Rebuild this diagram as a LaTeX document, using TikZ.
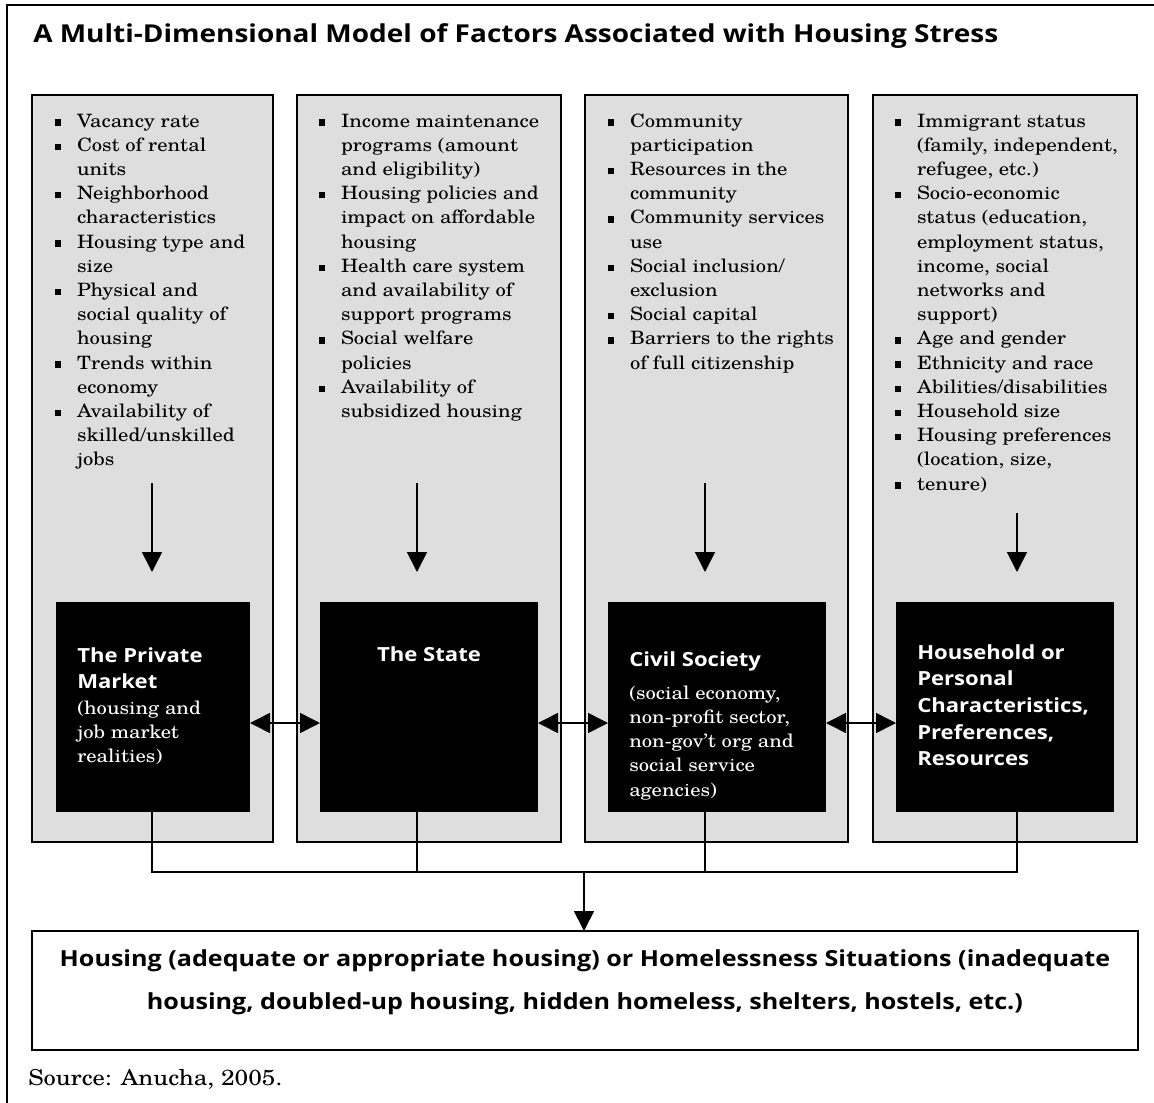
\documentclass[tikz,border=0pt]{standalone}
\usepackage{fontspec}
\setmainfont{texgyreschola}[Extension=.otf,UprightFont=*-regular,BoldFont=*-bold,ItalicFont=*-italic,BoldItalicFont=*-bolditalic,FakeStretch=1.12]
\newfontfamily\hsans{Open Sans}[FakeStretch=1.135]
\usetikzlibrary{arrows.meta}
\newdimen\pxu \pxu=0.75pt
\definecolor{colgray}{RGB}{222,222,222}
\newcommand{\bul}{\llap{\raisebox{0.9pt}{\rule{4.8pt}{4.8pt}}\hspace{11.9pt}}}
\newcommand{\st}{\rule{0pt}{12pt}}
\tikzset{
  colbox/.style={draw, line width=1.5pt, fill=colgray, inner sep=0pt, outer sep=0pt},
  blackbox/.style={fill=black, inner sep=0pt, outer sep=0pt},
  listtxt/.style={anchor=north west, inner sep=0pt, outer sep=0pt, align=left, font=\fontsize{13.8}{18.15}\selectfont},
  headtxt/.style={anchor=north west, inner sep=0pt, align=left, text=white, font=\hsans\bfseries\fontsize{14.6}{20}\selectfont},
  bodytxt/.style={anchor=north west, inner sep=0pt, align=left, text=white, font=\fontsize{13.8}{18.15}\selectfont},
  conn/.style={line width=1.2pt},
  arr/.style={line width=1.2pt, -{Triangle[length=15pt,width=15pt]}},
  darr/.style={line width=1.2pt, {Triangle[length=15pt,width=15pt]}-{Triangle[length=15pt,width=15pt]}},
}
\begin{document}
\begin{tikzpicture}[x=0.75pt,y=-0.75pt]
\useasboundingbox (0,0) rectangle (1154,1103);
% outer frame (top and left edges)
\draw[line width=1.1pt] (7,1110) -- (7,5) -- (1160,5);
% title
\node[anchor=base west, inner sep=0pt, font=\hsans\bfseries\fontsize{18.5}{22}\selectfont] (title) at (33,42)
  {A Multi-Dimensional Model of Factors Associated with Housing Stress};
% gray columns
\node[colbox, minimum width=241\pxu, minimum height=747\pxu] (c1) at (152.5,468.5) {};
\node[colbox, minimum width=264\pxu, minimum height=747\pxu] (c2) at (429,468.5) {};
\node[colbox, minimum width=263\pxu, minimum height=747\pxu] (c3) at (716.5,468.5) {};
\node[colbox, minimum width=264\pxu, minimum height=747\pxu] (c4) at (1005,468.5) {};
% lists
\node[listtxt] (l1) at (77,111) {\st\bul Vacancy rate\\
\bul Cost of rental\\ units\\
\bul Neighborhood\\ characteristics\\
\bul Housing type and\\ size\\
\bul Physical and\\ social quality of\\ housing\\
\bul Trends within\\ economy\\
\bul Availability of\\ skilled/unskilled\\ jobs};
\node[listtxt] (l2) at (341,111) {\st\bul Income maintenance\\ programs (amount\\ and eligibility)\\
\bul Housing policies and\\ impact on affordable\\ housing\\
\bul Health care system\\ and availability of\\ support programs\\
\bul Social welfare\\ policies\\
\bul Availability of\\ subsidized housing};
\node[listtxt] (l3) at (630,111) {\st\bul Community\\ participation\\
\bul Resources in the\\ community\\
\bul Community services\\ use\\
\bul Social inclusion/\\ exclusion\\
\bul Social capital\\
\bul Barriers to the rights\\ of full citizenship};
\node[listtxt] (l4) at (917,111) {\st\bul Immigrant status\\ (family, independent,\\ refugee, etc.)\\
\bul Socio-economic\\ status (education,\\ employment status,\\ income, social\\ networks and\\ support)\\
\bul Age and gender\\
\bul Ethnicity and race\\
\bul Abilities/disabilities\\
\bul Household size\\
\bul Housing preferences\\ (location, size,\\
\bul tenure)};
% black boxes
\node[blackbox, minimum width=194\pxu, minimum height=210\pxu] (bk1) at (153,707) {};
\node[blackbox, minimum width=218\pxu, minimum height=210\pxu] (bk2) at (429,707) {};
\node[blackbox, minimum width=218\pxu, minimum height=210\pxu] (bk3) at (717,707) {};
\node[blackbox, minimum width=218\pxu, minimum height=210\pxu] (bk4) at (1005,707) {};
% black box texts
\node[headtxt] (h1) at (77,646) {\st The Private\\Market};
\node[bodytxt] (t1) at (77,698) {\st(housing and\\job market\\realities)};
\node[anchor=base, inner sep=0pt, text=white, font=\hsans\bfseries\fontsize{14.6}{20}\selectfont] (h2) at (429,661) {The State};
\node[headtxt] (h3) at (629,650) {\st Civil Society};
\node[bodytxt] (t3) at (629,683) {\st(social economy,\\non-profit sector,\\non-gov’t org and\\social service\\agencies)};
\node[headtxt] (h4) at (917,643) {\st Household or\\Personal\\Characteristics,\\Preferences,\\Resources};
% coordinates for vertical connectors
\coordinate (s1) at (152,483);
\coordinate (s2) at (417,483);
\coordinate (s3) at (705,483);
\coordinate (s4) at (1017,513);
\coordinate (j) at (584,872);
% down arrows into black boxes
\draw[arr] (s1) -- ([yshift=22.5pt]s1 |- bk1.north);
\draw[arr] (s2) -- ([yshift=22.5pt]s2 |- bk2.north);
\draw[arr] (s3) -- ([yshift=22.5pt]s3 |- bk3.north);
\draw[arr] (s4) -- ([yshift=22.5pt]s4 |- bk4.north);
% double arrows between black boxes
\draw[darr] ([yshift=-12pt]bk1.east) -- ([yshift=-12pt]bk2.west);
\draw[darr] ([yshift=-12pt]bk2.east) -- ([yshift=-12pt]bk3.west);
\draw[darr] ([yshift=-12pt]bk3.east) -- ([yshift=-12pt]bk4.west);
% bottom box
\node[draw, line width=1.2pt, fill=white, inner sep=0pt, outer sep=0pt, minimum width=1106\pxu, minimum height=119\pxu] (out) at (585,990.5) {};
\node[anchor=north, inner sep=0pt, align=center, font=\hsans\bfseries\fontsize{16.6}{32.25}\selectfont] (outtxt) at (585,947.3)
  {\rule{0pt}{14pt}Housing (adequate or appropriate housing) or Homelessness Situations (inadequate\\housing, doubled-up housing, hidden homeless, shelters, hostels, etc.)};
% joining connectors
\draw[conn] (s1 |- bk1.south) -- (s1 |- j) -- (s4 |- j) -- (s4 |- bk4.south);
\draw[conn] (s2 |- bk2.south) -- (s2 |- j);
\draw[conn] (s3 |- bk3.south) -- (s3 |- j);
\draw[arr] (j) -- (j |- out.north);
% source
\node[anchor=base west, inner sep=0pt, font=\fontsize{16.4}{20}\selectfont] (src) at (28,1085) {Source: Anucha, 2005.};
\end{tikzpicture}
\end{document}
